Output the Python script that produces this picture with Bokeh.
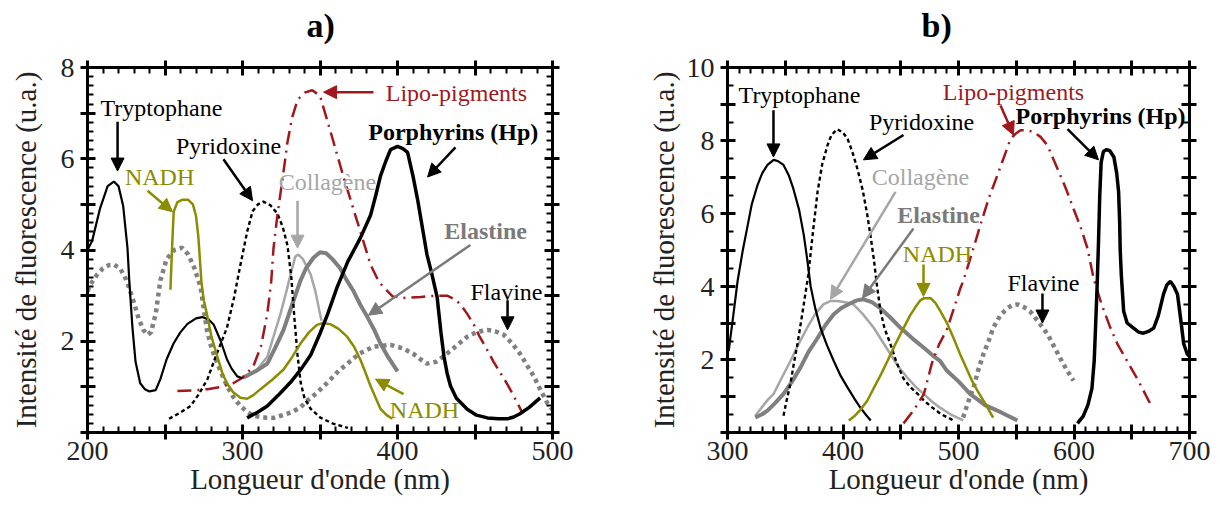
from bokeh.plotting import figure
from bokeh.models import FixedTicker, LinearAxis, Arrow, NormalHead, Label, Range1d
from bokeh.layouts import row
from bokeh.embed import file_html
from bokeh.resources import INLINE

FONT = "Liberation Serif"

# ---------------- Panel a) data (wavelength nm, intensity u.a.) ----------------
a_tryp_x = [200, 203, 208, 213, 217, 220, 223, 225.8, 227, 229, 231, 234, 237, 240, 244, 247, 251, 255.5,
            260, 264.5, 270, 274, 278, 281.5, 286, 290, 293, 296.6, 300]
a_tryp_y = [4.0, 4.2, 4.9, 5.4, 5.5, 5.4, 4.97, 4.04, 3.3, 2.3, 1.55, 1.08, 0.95, 0.9, 0.93, 1.17, 1.6, 1.95,
            2.2, 2.38, 2.5, 2.53, 2.48, 2.36, 2.0, 1.6, 1.4, 1.23, 1.19]

a_nadh_x = [253.5, 254.5, 255.6, 258, 261, 265, 268, 270, 271.5, 272.5, 273.5, 275, 277, 280, 283.8, 287, 290,
            294, 298.7, 303, 307, 311.6, 319, 326.5, 332, 337.4, 343, 348, 352, 357, 362, 367.5, 372, 376,
            379.5, 382.6, 386, 389, 393, 396.7]
a_nadh_y = [3.13, 4.0, 4.84, 5.05, 5.1, 5.1, 5.0, 4.75, 4.3, 3.8, 3.3, 2.9, 2.6, 2.1, 1.66, 1.3, 1.08,
            0.88, 0.76, 0.74, 0.82, 0.95, 1.15, 1.38, 1.65, 1.95, 2.2, 2.36, 2.4, 2.37, 2.27, 2.1, 1.88, 1.6,
            1.3, 1.02, 0.75, 0.52, 0.38, 0.3]

a_pyr_x = [252.6, 259, 266.5, 272, 277.4, 282, 286, 290, 294.5, 298.7, 303, 306.5, 310, 313.5, 318, 322.5,
           326, 329, 331.5, 333.5, 335.5, 337.5, 340, 344, 350, 358, 368]
a_pyr_y = [0.3, 0.42, 0.58, 0.85, 1.17, 1.6, 1.95, 2.3, 2.95, 3.68, 4.4, 4.85, 5.0, 5.06, 4.98, 4.8,
           4.5, 4.1, 3.4, 2.5, 1.7, 1.1, 0.75, 0.52, 0.33, 0.2, 0.1]

a_lipo_x = [258, 268, 277.4, 286, 294, 300, 307, 312, 316, 318.5, 320, 322.5, 326, 329, 332, 335.5, 340, 345,
            350, 357, 365, 374, 382.6, 388, 393.5, 397, 405, 415, 425, 432, 437, 440.6, 445, 449, 453, 458,
            462, 466.5, 471, 475, 480.6]
a_lipo_y = [0.91, 0.92, 0.95, 1.0, 1.08, 1.2, 1.45, 1.9, 2.6, 3.3, 4.04, 4.76, 5.6, 6.36, 6.9, 7.29, 7.45, 7.5,
            7.38, 6.57, 5.62, 4.63, 3.68, 3.3, 3.1, 2.98, 2.95, 2.97, 3.0, 3.0, 2.92, 2.81, 2.6, 2.38, 2.1, 1.8,
            1.55, 1.3, 1.05, 0.8, 0.43]

a_porph_x = [303, 310, 316, 324, 331, 338, 344, 350, 355, 361, 368, 376, 382.6, 386, 389, 392.5, 395.5, 400,
             403.5, 406.5, 410, 413, 415, 417, 419, 422, 425.6, 428, 430, 432, 434.2, 438, 445, 451, 458, 465,
             471, 475, 479, 485, 492]
a_porph_y = [0.32, 0.45, 0.58, 0.85, 1.1, 1.4, 1.7, 2.17, 2.6, 3.18, 3.75, 4.26, 4.76, 5.2, 5.62, 5.95, 6.2, 6.27,
             6.22, 6.14, 5.62, 5.1, 4.7, 4.3, 3.9, 3.5, 2.96, 2.2, 1.66, 1.3, 1.02, 0.75, 0.51, 0.38, 0.32, 0.3,
             0.3, 0.34, 0.41, 0.55, 0.76]

a_coll_x = [300, 303, 310, 316, 320, 324.5, 328, 331, 334, 336, 339, 342, 344, 347, 350, 351]
a_coll_y = [1.2, 1.22, 1.4, 1.66, 2.1, 2.6, 3.05, 3.46, 3.85, 3.9, 3.8, 3.6, 3.46, 3.1, 2.6, 2.45]

a_elas_x = [300, 303, 309, 316, 321, 326.5, 332, 337.4, 341, 345.8, 350, 354, 358, 363, 367, 371.6, 376,
            380.6, 385, 389, 394, 400]
a_elas_y = [1.2, 1.25, 1.35, 1.51, 1.85, 2.25, 2.8, 3.33, 3.6, 3.83, 3.95, 3.93, 3.8, 3.6, 3.35, 3.1, 2.8,
            2.53, 2.25, 1.95, 1.65, 1.34]

a_flav_x = [200, 202, 206, 210, 214, 217, 221, 225, 229, 233, 236, 238.7, 241, 244, 247, 251, 256, 261, 265,
            269, 273, 277, 280, 283.8, 287, 290, 294, 298.7, 303, 307, 313, 320, 326, 332, 337.4, 342, 348,
            355, 362, 367.7, 375, 384.5, 395.5, 403, 410, 415, 419, 425, 432, 438, 445, 451, 458, 463, 468.6,
            474, 479, 484, 488, 492, 496.6, 500]
a_flav_y = [3.1, 3.25, 3.45, 3.6, 3.67, 3.68, 3.6, 3.35, 2.95, 2.5, 2.25, 2.14, 2.2, 2.6, 3.33, 3.8, 4.0, 4.05, 3.9,
            3.6, 3.18, 2.25, 1.85, 1.51, 1.25, 1.02, 0.78, 0.58, 0.45, 0.37, 0.33, 0.32, 0.38, 0.45, 0.55, 0.7, 0.87,
            1.1, 1.35, 1.51, 1.72, 1.88, 1.92, 1.85, 1.73, 1.6, 1.51, 1.55, 1.73, 1.9, 2.1, 2.2, 2.25, 2.22, 2.14,
            1.95, 1.73, 1.45, 1.23, 0.95, 0.65, 0.5]

# ---------------- Panel b) data ----------------
b_tryp_x = [301, 305, 308.7, 313, 317, 321, 326, 330, 334.6, 340, 344, 348.5, 353, 357, 362, 366, 369, 372,
            376, 380.5, 386, 392, 398, 404, 410, 415, 420, 424]
b_tryp_y = [2.23, 3.2, 4.14, 4.95, 5.6, 6.25, 6.78, 7.1, 7.33, 7.47, 7.43, 7.33, 7.05, 6.68, 6.1, 5.42, 4.75, 4.0,
            3.4, 2.87, 2.4, 1.96, 1.55, 1.23, 0.92, 0.68, 0.48, 0.33]

b_pyr_x = [348.5, 351, 354.5, 357.5, 360.6, 365, 370, 374, 378, 382, 386.6, 390, 395, 400, 404, 408, 412.5,
           417, 421, 424, 426.6, 429.5, 432.5, 436, 441, 446, 452, 458, 464.5, 470, 475.8, 485, 495.7]
b_pyr_y = [0.46, 0.85, 1.34, 1.9, 2.43, 3.3, 4.33, 5.5, 6.6, 7.35, 7.87, 8.15, 8.31, 8.22, 8.04, 7.7, 7.22,
           6.65, 5.97, 5.35, 4.77, 4.0, 3.32, 2.85, 2.43, 1.95, 1.5, 1.25, 1.06, 0.88, 0.72, 0.5, 0.33]

b_coll_x = [324, 330, 335, 340, 347, 354.5, 362, 369, 376, 383, 389, 395, 402, 409, 417, 426.6, 434, 441, 448,
            455.8, 463, 470, 477, 484, 494, 504]
b_coll_y = [0.46, 0.7, 0.9, 1.06, 1.5, 1.96, 2.45, 2.87, 3.25, 3.51, 3.6, 3.6, 3.57, 3.51, 3.25, 2.87, 2.5, 2.15, 1.8,
            1.5, 1.25, 1.05, 0.85, 0.68, 0.48, 0.33]

b_elas_x = [324, 330, 334.6, 341, 348.5, 356, 363, 370, 378, 385, 392, 399, 406.5, 412, 417.7, 425, 432.5, 441,
            450, 460, 470, 478, 484, 490, 500, 510, 523, 537, 551]
b_elas_y = [0.41, 0.5, 0.6, 0.8, 1.06, 1.4, 1.77, 2.2, 2.59, 2.95, 3.24, 3.42, 3.54, 3.62, 3.65, 3.57, 3.4, 3.15,
            2.86, 2.58, 2.32, 2.1, 1.96, 1.69, 1.4, 1.06, 0.75, 0.55, 0.33]

b_nadh_x = [405, 410, 415, 421, 428, 433, 438.5, 445, 452.4, 458, 463, 467, 470, 475.8, 480, 484.4, 490, 495.7,
            502, 507.8, 512, 516.5, 523, 530]
b_nadh_y = [0.33, 0.45, 0.62, 0.87, 1.3, 1.6, 1.96, 2.4, 2.86, 3.2, 3.45, 3.62, 3.68, 3.68, 3.55, 3.32, 3.0, 2.59,
            2.1, 1.69, 1.4, 1.14, 0.8, 0.41]

b_lipo_x = [452.4, 461, 470, 477, 483, 490.5, 496, 501.7, 504, 512, 519, 526, 533.8, 540, 545, 550, 553.7, 560,
            565, 571, 577, 582, 588, 594, 599.6, 606, 611.7, 617, 624, 631.6, 638, 646, 656, 666]
b_lipo_y = [0.25, 0.6, 1.05, 1.9, 2.4, 2.86, 3.4, 3.96, 4.14, 4.95, 5.69, 6.4, 7.06, 7.6, 8.04, 8.2, 8.28, 8.28,
            8.23, 8.1, 7.87, 7.5, 7.06, 6.6, 6.13, 5.6, 5.04, 4.22, 3.5, 2.86, 2.4, 1.96, 1.4, 0.79]

b_flav_x = [504, 508, 513, 517, 521.6, 526, 530, 536, 542, 546, 551, 556, 562, 570, 577, 582, 588, 594, 599.6]
b_flav_y = [0.41, 0.8, 1.23, 1.7, 2.15, 2.5, 2.86, 3.2, 3.4, 3.48, 3.51, 3.45, 3.32, 3.0, 2.7, 2.4, 2.04, 1.7, 1.42]

b_porph_x = [603, 608, 612, 615.5, 617.5, 618.8, 620, 621.2, 622.3, 623.5, 625.5, 628, 631, 634.5, 637, 638.6,
             639.5, 640, 641, 643, 646, 651.6, 656, 660, 665, 669, 673, 677.5, 680.5, 683.5, 686.5, 689.6, 692,
             695, 698, 699.5]
b_porph_y = [0.25, 0.45, 0.75, 1.2, 1.96, 3.0, 4.0, 5.2, 6.5, 7.4, 7.7, 7.75, 7.72, 7.55, 7.1, 6.6,
             5.8, 5.0, 4.3, 3.32, 3.0, 2.86, 2.75, 2.72, 2.78, 2.86, 3.2, 3.79, 4.05, 4.14, 4.0, 3.79, 3.2,
             2.43, 2.15, 2.1]

# tick values
a_xticks = [200, 250, 300, 350, 400, 450, 500]
a_xlabels = [200, 300, 400, 500]
a_yticks = [0, 1, 2, 3, 4, 5, 6, 7, 8]
a_ylabels = [2, 4, 6, 8]
b_xticks = [300, 350, 400, 450, 500, 550, 600, 650, 700]
b_xlabels = [300, 400, 500, 600, 700]
b_yticks = [0, 1, 2, 3, 4, 5, 6, 7, 8, 9, 10]
b_ylabels = [2, 4, 6, 8, 10]

# annotations: (text, x, y, colour, bold)
a_texts = [("Tryptophane", 247.7, 7.11, "black", False),
           ("NADH", 246.5, 5.6, "#8c8c00", False),
           ("Pyridoxine", 291, 6.27, "black", False),
           ("Collagène", 354.8, 5.49, "#a6a6a6", False),
           ("Lipo-pigments", 438, 7.44, "#a0181c", False),
           ("Porphyrins (Hp)", 436, 6.59, "black", True),
           ("Elastine", 456.8, 4.41, "#7a7a7a", True),
           ("Flavine", 470.3, 3.07, "black", False),
           ("NADH", 417.4, 0.5, "#8c8c00", False)]
# arrows: (x_start, y_start, x_end, y_end, colour)
a_arrows = [(219.4, 6.81, 219.4, 5.73, "black"),
            (238.7, 5.30, 254.8, 4.84, "#8c8c00"),
            (287.7, 5.99, 306.5, 5.08, "black"),
            (335.5, 5.08, 335.5, 4.04, "#a6a6a6"),
            (384.5, 7.46, 352.3, 7.46, "#a0181c"),
            (437.4, 6.25, 419.4, 5.6, "black"),
            (447, 4.11, 381.3, 2.57, "#7a7a7a"),
            (471, 2.9, 471, 2.25, "black"),
            (403.9, 0.84, 385.8, 1.17, "#8c8c00")]

b_texts = [("Tryptophane", 362.3, 9.26, "black", False),
           ("Pyridoxine", 468, 8.5, "black", False),
           ("Collagène", 467, 7.0, "#a6a6a6", False),
           ("Elastine", 482.7, 5.97, "#7a7a7a", True),
           ("NADH", 481.8, 4.9, "#8c8c00", False),
           ("Lipo-pigments", 547.6, 9.32, "#a0181c", False),
           ("Porphyrins (Hp)", 623, 8.66, "black", True),
           ("Flavine", 573.6, 4.09, "black", False)]
b_arrows = [(339.8, 8.83, 339.8, 7.55, "black"),
            (452.4, 8.15, 417.7, 7.47, "black"),
            (445.5, 6.59, 389.2, 3.65, "#a6a6a6"),
            (461, 5.59, 416.9, 3.68, "#7a7a7a"),
            (469.7, 4.6, 469.7, 3.73, "#8c8c00"),
            (536.4, 8.96, 547.6, 8.15, "#a0181c"),
            (594.4, 8.31, 621.2, 7.47, "black"),
            (572.7, 3.81, 572.7, 3.0, "black")]

OLIVE = "#8c8c00"
LIPO = "#a0181c"
LGRAY = "#a6a6a6"
MGRAY = "#7f7f7f"
DGRAY = "#808080"


def style_axis(ax, ticks, minor, labels, show):
    ax.ticker = FixedTicker(ticks=ticks, minor_ticks=minor)
    ax.axis_line_width = 3
    ax.axis_line_color = "black"
    ax.major_tick_line_width = 3
    ax.minor_tick_line_width = 2
    ax.major_tick_in = 8
    ax.major_tick_out = 7
    ax.minor_tick_in = 6
    ax.minor_tick_out = 0
    ax.major_label_text_font = FONT
    ax.major_label_text_color = "#222222"
    if show:
        ax.major_label_text_font_size = "28px"
        ax.major_label_overrides = {t: (str(t) if t in labels else "") for t in ticks}
    else:
        ax.major_label_text_font_size = "0px"
        ax.major_label_standoff = 0
        ax.major_label_overrides = {t: "" for t in ticks}
    ax.axis_label_text_font = FONT
    ax.axis_label_text_font_size = "29px"
    ax.axis_label_text_font_style = "normal"
    ax.axis_label_text_color = "#222222"


def make_panel(title, title_offset, xr, yr, xt, xl, xminor, yt, yl, yminor, w, h, bl, br, bt, bb,
               ylab_standoff):
    p = figure(width=w, height=h, x_range=Range1d(*xr), y_range=Range1d(*yr),
               output_backend="svg", toolbar_location=None,
               min_border_left=bl, min_border_right=br, min_border_top=bt, min_border_bottom=bb)
    p.xgrid.visible = False
    p.ygrid.visible = False
    p.outline_line_color = None
    p.background_fill_color = "white"
    p.border_fill_color = "white"
    p.title.text = title
    p.title.text_font = FONT
    p.title.text_font_size = "34px"
    p.title.text_font_style = "bold"
    p.title.text_color = "black"
    p.title.align = "left"
    p.title.offset = title_offset
    p.title.vertical_align = "top"
    p.title.standoff = 0
    style_axis(p.xaxis[0], xt, xminor, xl, True)
    style_axis(p.yaxis[0], yt, yminor, yl, True)
    p.xaxis[0].axis_label = "Longueur d'onde (nm)"
    p.xaxis[0].major_label_standoff = 2
    p.xaxis[0].axis_label_standoff = 0
    p.yaxis[0].axis_label = "Intensité de fluorescence (u.a.)"
    p.yaxis[0].major_label_standoff = 6
    p.yaxis[0].axis_label_standoff = ylab_standoff
    top = LinearAxis()
    style_axis(top, xt, xminor, xl, False)
    p.add_layout(top, "above")
    # invisible spacer between the top axis and the panel title
    spacer = LinearAxis()
    style_axis(spacer, xt, [], xl, False)
    spacer.axis_line_color = None
    spacer.major_tick_line_color = None
    spacer.minor_tick_line_color = None
    spacer.major_tick_in = 0
    spacer.major_tick_out = 15
    p.add_layout(spacer, "above")
    right = LinearAxis()
    style_axis(right, yt, yminor, yl, False)
    p.add_layout(right, "right")
    return p


def add_annotations(p, texts, arrows):
    for (x0, y0, x1, y1, c) in arrows:
        p.add_layout(Arrow(end=NormalHead(size=13, fill_color=c, line_color=c, line_width=1),
                           x_start=x0, y_start=y0, x_end=x1, y_end=y1,
                           line_color=c, line_width=2.5))
    for (t, x, y, c, b) in texts:
        p.add_layout(Label(x=x, y=y, text=t, text_font=FONT, text_font_size="24px",
                           text_font_style="bold" if b else "normal", text_color=c,
                           text_align="center", text_baseline="middle"))


# ---------- panel a ----------
pa = make_panel("a)", 219, (200, 500), (0, 8), a_xticks, a_xlabels, list(range(200, 501, 10)),
                a_yticks, a_ylabels, [round(i * 0.2, 1) for i in range(0, 41)],
                640, 512, 87, 88, 67, 75, 16)
pa.line(a_flav_x, a_flav_y, line_color=DGRAY, line_width=4.5, line_dash="4 4")
pa.line(a_coll_x, a_coll_y, line_color=LGRAY, line_width=2.5)
pa.line(a_elas_x, a_elas_y, line_color=MGRAY, line_width=4)
pa.line(a_pyr_x, a_pyr_y, line_color="black", line_width=2.4, line_dash="4 3")
pa.line(a_lipo_x, a_lipo_y, line_color=LIPO, line_width=2.5, line_dash="14 6 2 6")
pa.line(a_tryp_x, a_tryp_y, line_color="black", line_width=2.2)
pa.line(a_nadh_x, a_nadh_y, line_color=OLIVE, line_width=2.5)
pa.line(a_porph_x, a_porph_y, line_color="black", line_width=3.5)
add_annotations(pa, a_texts, a_arrows)

# ---------- panel b ----------
pb = make_panel("b)", 194, (300, 700), (0, 10), b_xticks, b_xlabels, list(range(300, 701, 10)),
                b_yticks, b_ylabels, [i * 0.5 for i in range(0, 21)],
                580, 512, 87, 31, 65, 80, 4)
pb.line(b_flav_x, b_flav_y, line_color=DGRAY, line_width=4.5, line_dash="4 4")
pb.line(b_coll_x, b_coll_y, line_color=LGRAY, line_width=2.5)
pb.line(b_elas_x, b_elas_y, line_color=MGRAY, line_width=4)
pb.line(b_pyr_x, b_pyr_y, line_color="black", line_width=2.4, line_dash="4 3")
pb.line(b_lipo_x, b_lipo_y, line_color=LIPO, line_width=2.5, line_dash="14 6 2 6")
pb.line(b_tryp_x, b_tryp_y, line_color="black", line_width=2.2)
pb.line(b_nadh_x, b_nadh_y, line_color=OLIVE, line_width=2.5)
pb.line(b_porph_x, b_porph_y, line_color="black", line_width=3.5)
add_annotations(pb, b_texts, b_arrows)

layout = row(pa, pb)
open("out.html", "w").write(file_html(layout, INLINE))
